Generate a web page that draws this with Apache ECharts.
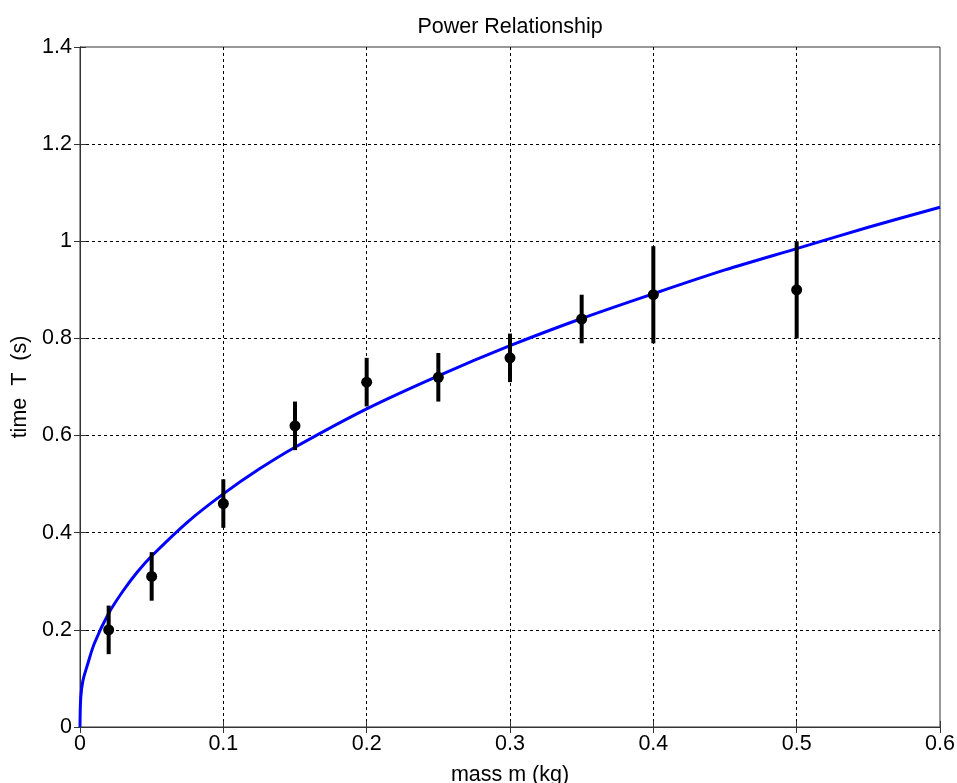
<!DOCTYPE html>
<html>
<head>
<meta charset="utf-8">
<script src="https://cdn.jsdelivr.net/npm/echarts@6/dist/echarts.min.js"></script>
<style>html,body{margin:0;padding:0;background:#fff}#c{width:957px;height:783px}</style>
</head>
<body>
<div id="c"></div>
<script>
// measured data
var massX = [0.02, 0.05, 0.1, 0.15, 0.2, 0.25, 0.3, 0.35, 0.4, 0.5];
var timeY = [0.20, 0.31, 0.46, 0.62, 0.71, 0.72, 0.76, 0.84, 0.89, 0.90];
var errLow = [0.15, 0.26, 0.41, 0.57, 0.66, 0.67, 0.71, 0.79, 0.79, 0.80];
var errHigh = [0.25, 0.36, 0.51, 0.67, 0.76, 0.77, 0.81, 0.89, 0.99, 1.00];
// fitted power curve
var curveX = [0, 0.0005, 0.002, 0.005, 0.01, 0.02, 0.03, 0.04, 0.05, 0.075, 0.1, 0.125, 0.15, 0.2, 0.25, 0.3, 0.35, 0.4, 0.45, 0.5, 0.55, 0.6];
var curveY = [0, 0.06, 0.095, 0.126, 0.172, 0.234, 0.280, 0.319, 0.352, 0.422, 0.480, 0.531, 0.576, 0.655, 0.723, 0.785, 0.841, 0.892, 0.941, 0.985, 1.029, 1.070];
var xTicks = [0, 0.1, 0.2, 0.3, 0.4, 0.5, 0.6];
var yTicks = [0, 0.2, 0.4, 0.6, 0.8, 1, 1.2, 1.4];

var font = 'Liberation Sans, Arial, sans-serif';
var fs = 21.5;
var chart = echarts.init(document.getElementById('c'));

var pts = massX.map(function (x, i) { return [x, timeY[i]]; });
var errs = massX.map(function (x, i) { return [x, errLow[i], errHigh[i]]; });
var curve = curveX.map(function (x, i) { return [x, curveY[i]]; });

function fmt(v) { return String(+v.toFixed(1)); }

var axisCommon = {
  axisLine: { show: true, lineStyle: { color: '#333', width: 1 } },
  axisTick: { show: true, inside: true, length: 6, lineStyle: { color: '#333' } },
  splitLine: { show: true, showMinLine: false, showMaxLine: false, lineStyle: { color: '#000', type: [3, 3], width: 1 } },
  axisLabel: { color: '#000', fontFamily: font, fontSize: fs, formatter: fmt }
};

chart.setOption({
  animation: false,
  backgroundColor: '#fff',
  title: {
    text: 'Power Relationship', left: 505, top: 11, textAlign: 'center',
    textStyle: { fontFamily: font, fontSize: fs, fontWeight: 'normal', color: '#000' }
  },
  grid: { left: 80, right: 17, top: 47, bottom: 56, containLabel: false, outerBoundsMode: 'none', show: true, borderColor: '#333', borderWidth: 1 },
  xAxis: [
    Object.assign({}, axisCommon, {
      type: 'value', min: 0, max: 0.6, interval: 0.1,
      name: 'mass m (kg)', nameLocation: 'middle', nameGap: 37,
      nameTextStyle: { fontFamily: font, fontSize: fs, color: '#000' },
      axisLabel: Object.assign({}, axisCommon.axisLabel, { margin: 6 })
    }),
    {
      type: 'value', position: 'top', min: 0, max: 0.6, interval: 0.1,
      axisLine: { show: true, lineStyle: { color: '#333' } },
      axisTick: { show: true, inside: true, length: 6, lineStyle: { color: '#333' } },
      axisLabel: { show: false }, splitLine: { show: false }
    }
  ],
  yAxis: [
    Object.assign({}, axisCommon, {
      type: 'value', min: 0, max: 1.4, interval: 0.2,
      name: 'time  T  (s)', nameLocation: 'middle', nameGap: 48,
      nameTextStyle: { fontFamily: font, fontSize: fs, color: '#000' },
      axisLabel: Object.assign({}, axisCommon.axisLabel, { margin: 8 })
    }),
    {
      type: 'value', position: 'right', min: 0, max: 1.4, interval: 0.2,
      axisLine: { show: true, lineStyle: { color: '#333' } },
      axisTick: { show: true, inside: true, length: 6, lineStyle: { color: '#333' } },
      axisLabel: { show: false }, splitLine: { show: false }
    }
  ],
  series: [
    {
      type: 'line', data: curve, smooth: 0.3, showSymbol: false, symbol: 'none',
      lineStyle: { color: '#0000ff', width: 3 }, z: 2
    },
    {
      type: 'custom', data: errs, z: 3,
      renderItem: function (params, api) {
        var x = api.value(0);
        var p1 = api.coord([x, api.value(1)]);
        var p2 = api.coord([x, api.value(2)]);
        return { type: 'line', shape: { x1: p1[0], y1: p1[1], x2: p2[0], y2: p2[1] }, style: { stroke: '#000', lineWidth: 4 } };
      }
    },
    {
      type: 'scatter', data: pts, symbol: 'circle', symbolSize: 11,
      itemStyle: { color: '#000', opacity: 1 }, z: 4
    }
  ]
});
</script>
</body>
</html>
